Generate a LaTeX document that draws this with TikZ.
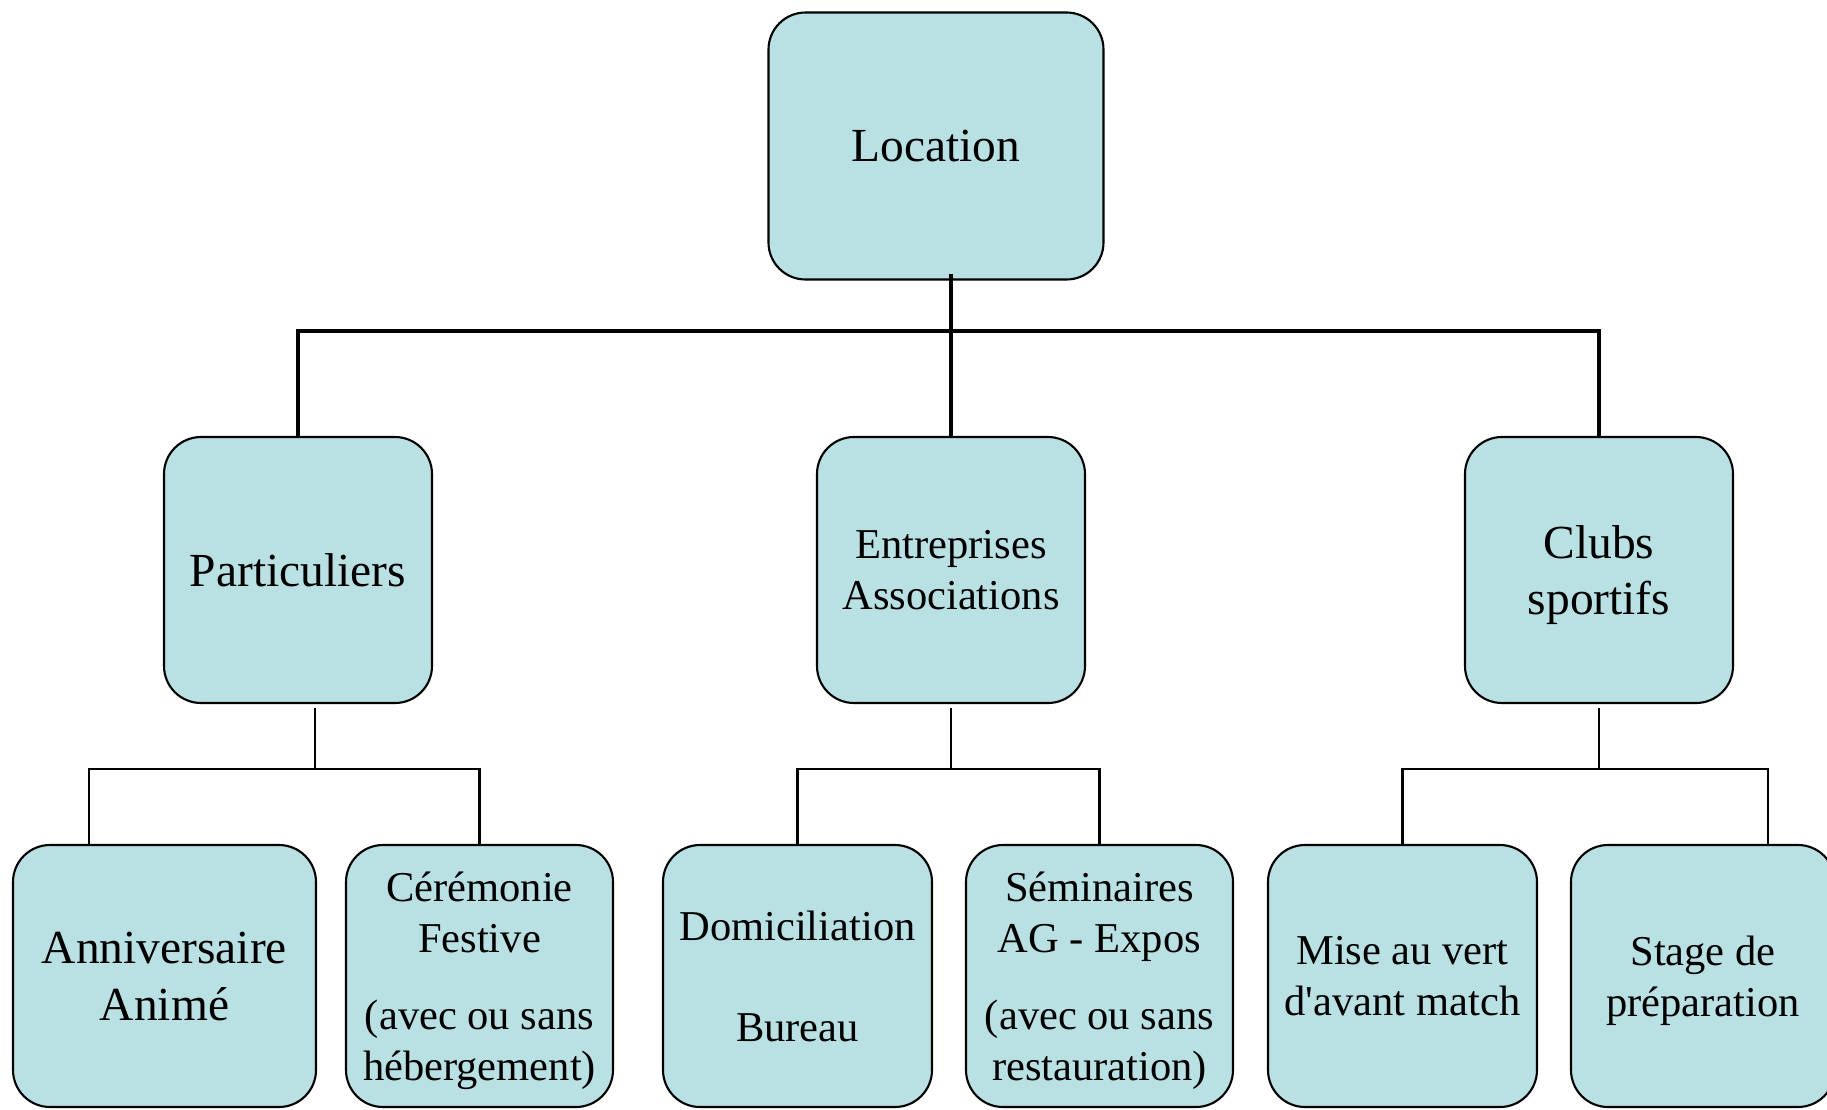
\documentclass[tikz,border=0pt]{standalone}
\usepackage{fontspec}
\setmainfont{Liberation Serif}[Ligatures=TeXOff]
\usetikzlibrary{positioning}
\definecolor{boxfill}{RGB}{185,224,227}

\begin{document}
\begin{tikzpicture}[x=0.1mm, y=-0.1mm,
    unit/.style={draw, line width=0.6pt, fill=boxfill, rounded corners=3.7mm,
      minimum width=26.8mm, minimum height=26.6mm, inner sep=0pt, align=center,
      text depth=0pt, font=\fontsize{12.1}{14.5}\selectfont},
    big/.style={font=\fontsize{13.5}{16.2}\selectfont},
    trunk/.style={line width=1.2pt},
    branch/.style={line width=0.8pt}]
  \useasboundingbox (0,0) rectangle (1827,1110);

  % top and middle row
  \node (loc)  [unit, big, minimum width=33.5mm, minimum height=26.7mm] at (936,146) {Location};
  \node (part) [unit, big] at (298,570)  {Particuliers};
  \node (ent)  [unit]      at (951,570)  {Entreprises\\Associations};
  \node (club) [unit, big] at (1599,570) {Clubs\\sportifs};

  % bottom row
  \node (anniv) [unit, big, minimum width=30.3mm, minimum height=26.2mm] at (164.5,976) {Anniversaire\\Animé};
  \node (cerem) [unit, minimum width=26.7mm, minimum height=26.2mm] at (479.5,976)
    {Cérémonie\\Festive\\[7.4pt](avec ou sans\\hébergement)};
  \node (domic) [unit, minimum width=26.9mm, minimum height=26.2mm] at (797.5,976)
    {Domiciliation\\[14.2pt]Bureau};
  \node (semin) [unit, minimum width=26.7mm, minimum height=26.2mm] at (1099.5,976)
    {Séminaires\\AG - Expos\\[7.4pt](avec ou sans\\restauration)};
  \node (mise)  [unit, minimum width=26.9mm, minimum height=26.2mm] at (1402.5,976)
    {Mise au vert\\d'avant match};
  \node (stage) [unit, minimum width=26.4mm, minimum height=26.2mm] at (1703,976)
    {Stage de\\préparation};

  % connectors
  \coordinate (bus)  at (951,331);
  \coordinate (pbus) at (315,769);
  \coordinate (ebus) at (951,769);
  \coordinate (cbus) at (1599,769);

  \draw[trunk] (loc.south -| bus) ++(0,-7) -- (ent.north);
  \draw[trunk] (part.north) |- (bus) -| (club.north);

  \draw[branch] (part.south -| pbus) ++(0,4) -- (pbus);
  \draw[branch] ([xshift=-7.55mm]anniv.north) |- (pbus) -| (cerem.north);
  \draw[branch] (ent.south) ++(0,4) -- (ebus);
  \draw[branch] (domic.north) |- (ebus) -| (semin.north);
  \draw[branch] (club.south) ++(0,4) -- (cbus);
  \draw[branch] (mise.north) |- (cbus) -| ([xshift=6.5mm]stage.north);
\end{tikzpicture}
\end{document}
